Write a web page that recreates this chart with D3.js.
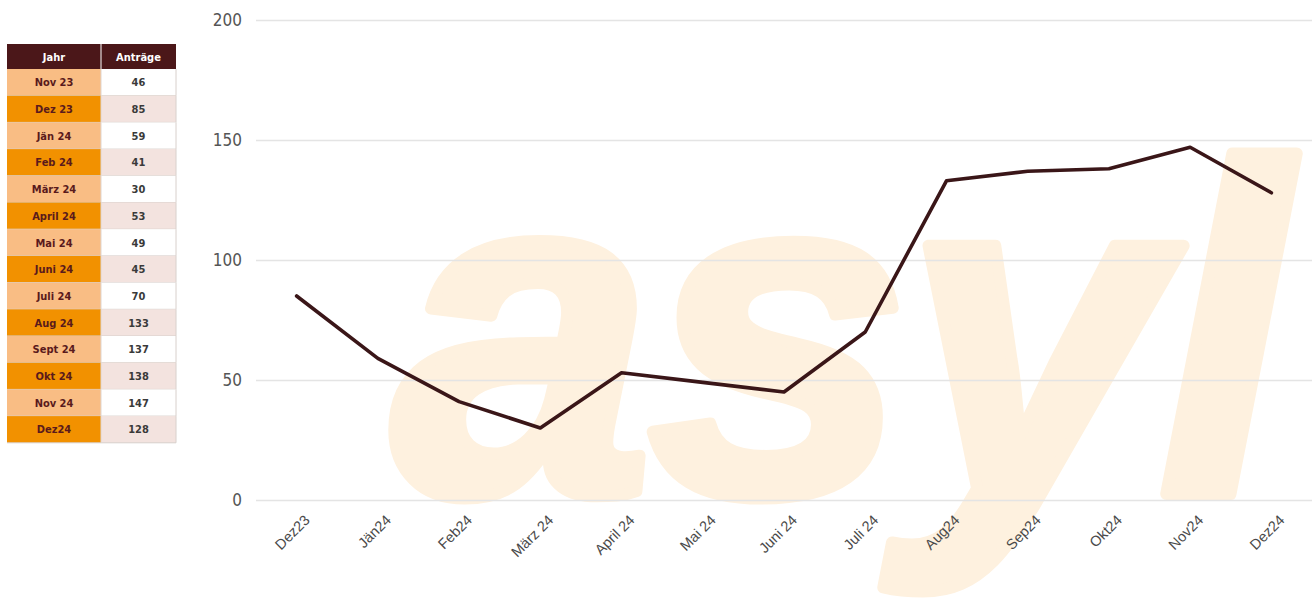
<!DOCTYPE html>
<html><head><meta charset="utf-8">
<script src="https://cdn.jsdelivr.net/npm/d3@7"></script>
<style>body{margin:0;background:#fff}svg{display:block}</style>
</head><body>
<svg id="c" width="1314" height="604"></svg>
<script>
const months = ["Dez23","Jän24","Feb24","März 24","April 24","Mai 24","Juni 24","Juli 24","Aug24","Sep24","Okt24","Nov24","Dez24"];
const values = [85,59,41,30,53,49,45,70,133,137,138,147,128];
const tableMonths = ["Nov 23","Dez 23","Jän 24","Feb 24","März 24","April 24","Mai 24","Juni 24","Juli 24","Aug 24","Sept 24","Okt 24","Nov 24","Dez24"];
const tableValues = [46,85,59,41,30,53,49,45,70,133,137,138,147,128];
const tableHeader = ["Jahr","Anträge"];
const yTicks = [0,50,100,150,200];

const svg = d3.select("#c");
const x = d3.scaleBand().domain(months).range([256,1312]);
const y = d3.scaleLinear().domain([0,200]).range([500,20]);

// watermark
svg.append("text").attr("x",392).attr("y",494)
  .attr("font-family","Liberation Sans, Arial, sans-serif").attr("font-weight","bold").attr("font-style","italic")
  .attr("font-size",470).attr("fill","#fef1df").attr("stroke","#fef1df").attr("stroke-width",12).attr("stroke-linejoin","round")
  .attr("letter-spacing",-6).text("asyl");

// grid
const ya = svg.append("g").attr("transform","translate(256,0)")
  .call(d3.axisLeft(y).tickValues(yTicks).tickSize(-1056).tickPadding(14));
ya.select(".domain").remove();
ya.selectAll(".tick line").attr("stroke","#e4e4e4").attr("stroke-width",1.5);
ya.selectAll(".tick text").attr("font-family","Liberation Sans Narrow, DejaVu Sans Condensed, sans-serif")
  .attr("font-size",17).attr("fill","#555");

const xa = svg.append("g").attr("transform","translate(0,500)")
  .call(d3.axisBottom(x).tickSize(0).tickPadding(0));
xa.select(".domain").remove();
xa.selectAll(".tick text").attr("font-family","Liberation Sans, Arial, sans-serif").attr("font-size",14.5).attr("fill","#4a4a4a")
  .attr("text-anchor","end").attr("dy",0).attr("transform","translate(14,21) rotate(-45)");

// line
const line = d3.line().x((d,i)=>x(months[i])+x.bandwidth()/2).y(d=>y(d)).curve(d3.curveLinear);
svg.append("path").datum(values).attr("d",line).attr("fill","none").attr("stroke","#3a1618").attr("stroke-width",3.6).attr("stroke-linejoin","round").attr("stroke-linecap","round");

// table
const t = svg.append("g");
const c0=7,c1=101,c2=176, hy=44, hh=25, rh=26.7;
t.append("rect").attr("x",c0).attr("y",hy).attr("width",c2-c0).attr("height",hh).attr("fill","#4b1719");
t.append("line").attr("x1",c1).attr("x2",c1).attr("y1",hy).attr("y2",hy+hh).attr("stroke","#fff").attr("stroke-width",1);
t.selectAll("text.h").data(tableHeader).join("text").attr("class","h")
  .attr("x",(d,i)=>i?(c1+c2)/2:(c0+c1)/2).attr("y",hy+hh/2+4).attr("text-anchor","middle")
  .attr("font-family","Liberation Sans Narrow, DejaVu Sans Condensed, sans-serif").attr("font-weight","bold").attr("font-size",11).attr("fill","#fff").text(d=>d);
const rows = t.selectAll("g.r").data(tableMonths).join("g").attr("class","r").attr("transform",(d,i)=>`translate(0,${hy+hh+i*rh})`);
rows.append("rect").attr("x",c0).attr("width",c1-c0).attr("height",rh).attr("fill",(d,i)=>i%2?"#f29100":"#f9bd84");
rows.append("rect").attr("x",c1).attr("width",c2-c1).attr("height",rh).attr("fill",(d,i)=>i%2?"#f3e3df":"#ffffff");
rows.append("line").attr("x1",c0).attr("x2",c2).attr("y1",rh).attr("y2",rh).attr("stroke","#d8d0cc").attr("stroke-width",1);
rows.append("line").attr("x1",c1).attr("x2",c1).attr("y1",0).attr("y2",rh).attr("stroke","#e0d6d0").attr("stroke-width",1);
rows.append("line").attr("x1",c2).attr("x2",c2).attr("y1",0).attr("y2",rh).attr("stroke","#d8d0cc").attr("stroke-width",1);
rows.append("text").attr("x",(c0+c1)/2).attr("y",rh/2+4).attr("text-anchor","middle")
  .attr("font-family","Liberation Sans Narrow, DejaVu Sans Condensed, sans-serif").attr("font-weight","bold").attr("font-size",11).attr("fill","#5a1a1c").text(d=>d);
rows.append("text").attr("x",(c1+c2)/2).attr("y",rh/2+4).attr("text-anchor","middle")
  .attr("font-family","Liberation Sans Narrow, DejaVu Sans Condensed, sans-serif").attr("font-weight","bold").attr("font-size",11).attr("fill","#3a3a3a").text((d,i)=>tableValues[i]);
</script>
</body></html>
